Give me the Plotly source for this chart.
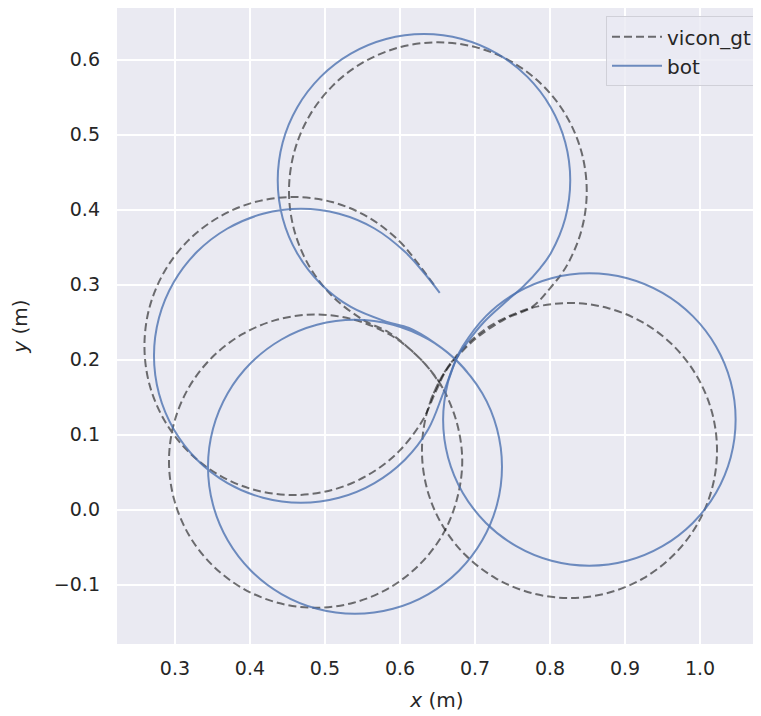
import plotly.graph_objects as go

# ---------------- data (metres) ----------------
# vicon ground truth (dashed); None separates drawn segments
vicon_x = [
    0.645, 0.621, 0.5985, 0.5574, 0.5094, 0.458, 0.4066, 0.3587, 0.3175, 0.286, 0.266, 0.2593,
    0.266, 0.286, 0.3175, 0.3587, 0.4066, 0.458, 0.5094, 0.5574, 0.5985, 0.630,
    0.648, 0.662, 0.684, 0.705, 0.740, 0.776, 0.800,
    0.8224, 0.8422, 0.849, 0.8422, 0.8224, 0.7909, 0.7498, 0.7019, 0.6505, 0.5991, 0.5513,
    0.5101, 0.4786, 0.4588, 0.452, 0.4588, 0.4786, 0.5101, 0.5513,
    0.5853, 0.613, 0.637, 0.657, 0.676, 0.683, 0.676, 0.657, 0.6257, 0.5853, 0.5381, 0.4875,
    0.4369, 0.3898, 0.3493, 0.3182, 0.2987, 0.292, 0.2987, 0.3182, 0.3493, 0.3898, 0.4369,
    0.4875, 0.5381, 0.5853, 0.613, 0.637, 0.657,
    None,
    0.6753, 0.6557, 0.636, 0.6293, 0.636, 0.6557, 0.6869, 0.7277, 0.7751, 0.826, 0.8769,
    0.9244, 0.9651, 0.9963, 1.016, 1.0227, 1.016, 0.9963, 0.9651, 0.9244, 0.8769, 0.826,
    0.7751, 0.7277, 0.6996, 0.6753, 0.6557, 0.641,
]
vicon_y = [
    0.300, 0.332, 0.3585, 0.390, 0.410, 0.4167, 0.410, 0.390, 0.3585, 0.3174, 0.2694, 0.218,
    0.1666, 0.1187, 0.0775, 0.046, 0.026, 0.0193, 0.026, 0.046, 0.0775, 0.1187,
    0.158, 0.186, 0.212, 0.231, 0.254, 0.270, 0.295,
    0.3252, 0.3731, 0.4245, 0.4759, 0.5238, 0.5649, 0.5964, 0.6162, 0.623, 0.6162, 0.5964,
    0.5649, 0.5238, 0.4759, 0.4245, 0.3731, 0.3252, 0.2841, 0.2526,
    0.236, 0.214, 0.190, 0.162, 0.115, 0.0645, 0.0139, -0.0333, -0.0737, -0.1048, -0.1243, -0.131,
    -0.1243, -0.1048, -0.0737, -0.0333, 0.0139, 0.0645, 0.1151, 0.1623, 0.2027, 0.2338, 0.2533,
    0.260, 0.2533, 0.2338, 0.214, 0.190, 0.162,
    None,
    0.205, 0.177, 0.1296, 0.0787, 0.0278, -0.0197, -0.0604, -0.0917, -0.1113, -0.118, -0.1113,
    -0.0917, -0.0604, -0.0197, 0.0278, 0.0787, 0.1296, 0.177, 0.2178, 0.2491, 0.2687, 0.2754,
    0.2687, 0.2491, 0.2294, 0.205, 0.177, 0.146,
]

# robot estimate (solid)
bot_x = [
    0.653, 0.630, 0.6066, 0.566, 0.5187, 0.468, 0.4173, 0.370, 0.3294, 0.2983, 0.2787, 0.272,
    0.2787, 0.2983, 0.3294, 0.370, 0.4173, 0.468, 0.5187, 0.566, 0.6066, 0.6377, 0.6573,
    0.667, 0.676, 0.690, 0.712, 0.740, 0.765, 0.787,
    0.8009, 0.8204, 0.827, 0.8204, 0.8009, 0.7699, 0.7295, 0.6825, 0.632, 0.5815, 0.5345,
    0.4941, 0.4631, 0.4436, 0.437, 0.4436, 0.4631, 0.4941, 0.5345, 0.5815,
    0.612, 0.645, 0.6737,
    0.7097, 0.7293, 0.736, 0.7293, 0.7097, 0.6786, 0.638, 0.5907, 0.54, 0.4893, 0.442, 0.4014,
    0.3703, 0.3507, 0.344, 0.3507, 0.3703, 0.4014, 0.442, 0.4893, 0.54, 0.5907, 0.638, 0.6737, 0.690,
    None,
    0.6744, 0.6641, 0.6575, 0.6641, 0.6836, 0.7146, 0.755, 0.802, 0.8525, 0.903, 0.95, 0.9904,
    1.0214, 1.0409, 1.0475, 1.0409, 1.0214, 0.9904, 0.95, 0.903, 0.8525, 0.802, 0.755, 0.7146,
    0.6836, 0.6744, 0.6641,
]
bot_y = [
    0.289, 0.318, 0.3436, 0.3747, 0.3943, 0.401, 0.3943, 0.3747, 0.3436, 0.303, 0.2557, 0.205,
    0.1543, 0.107, 0.0664, 0.0353, 0.0157, 0.009, 0.0157, 0.0353, 0.0664, 0.107, 0.1543,
    0.180, 0.202, 0.223, 0.250, 0.276, 0.298, 0.322,
    0.3415, 0.3885, 0.439, 0.4895, 0.5365, 0.5769, 0.6079, 0.6274, 0.634, 0.6274, 0.6079,
    0.5769, 0.5365, 0.4895, 0.439, 0.3885, 0.3415, 0.3011, 0.2701, 0.2506,
    0.242, 0.223, 0.2003,
    0.155, 0.1077, 0.057, 0.0063, -0.041, -0.0816, -0.1127, -0.1323, -0.139, -0.1323, -0.1127, -0.0816,
    -0.041, 0.0063, 0.057, 0.1077, 0.155, 0.1956, 0.2267, 0.2463, 0.253, 0.2463, 0.2267, 0.2003, 0.183,
    None,
    0.1993, 0.1705, 0.12, 0.0695, 0.0225, -0.0179, -0.0489, -0.0684, -0.075, -0.0684, -0.0489, -0.0179,
    0.0225, 0.0695, 0.12, 0.1705, 0.2175, 0.2579, 0.2889, 0.3084, 0.315, 0.3084, 0.2889, 0.2579,
    0.2175, 0.1993, 0.1705,
]

x_ticks = [0.3, 0.4, 0.5, 0.6, 0.7, 0.8, 0.9, 1.0]
y_ticks = [-0.1, 0.0, 0.1, 0.2, 0.3, 0.4, 0.5, 0.6]

# ---------------- figure ----------------
FONT = "DejaVu Sans"
TXT = "#262626"

fig = go.Figure()
fig.add_trace(go.Scatter(
    x=vicon_x, y=vicon_y, mode="lines", name="vicon_gt",
    line=dict(color="rgba(0,0,0,0.55)", width=2, dash="8px,4px", shape="spline", smoothing=1),
    connectgaps=False,
))
fig.add_trace(go.Scatter(
    x=bot_x, y=bot_y, mode="lines", name="bot",
    line=dict(color="rgba(76,114,176,0.8)", width=2, shape="spline", smoothing=1),
    connectgaps=False,
))

# page body has an 8px margin: figure is sized/offset so the plot lands where the reference has it
fig.update_layout(
    width=753, height=708,
    margin=dict(l=109, r=4, t=0, b=72, pad=0),
    paper_bgcolor="white", plot_bgcolor="#EAEAF2",
    font=dict(family=FONT, size=19, color=TXT),
    showlegend=True,
    legend=dict(
        x=1.0, y=0.987, xanchor="right", yanchor="top",
        bgcolor="rgba(234,234,242,0.8)", bordercolor="#d0d0d8", borderwidth=1,
        font=dict(family=FONT, size=20, color=TXT),
        tracegroupgap=0, itemwidth=50,
    ),
)
fig.update_xaxes(
    range=[0.2227, 1.076], tickvals=x_ticks, ticktext=[f"{v:.1f}" for v in x_ticks],
    showgrid=True, gridcolor="white", gridwidth=1.6, zeroline=False, showline=False,
    ticks="", ticklabelstandoff=11, tickfont=dict(size=19),
    title=dict(text="<i>x</i> (m)", font=dict(family=FONT, size=20, color=TXT), standoff=14),
    automargin=False,
)
fig.update_yaxes(
    range=[-0.1793, 0.6687], tickvals=y_ticks,
    ticktext=[("\u22120.1" if v < 0 else f"{v:.1f}") for v in y_ticks],
    showgrid=True, gridcolor="white", gridwidth=1.6, zeroline=False, showline=False,
    ticks="", ticklabelstandoff=16, tickfont=dict(size=19),
    title=dict(text="<i>y</i> (m)", font=dict(family=FONT, size=20, color=TXT), standoff=20),
    automargin=False,
)

fig.write_html("out.html")
